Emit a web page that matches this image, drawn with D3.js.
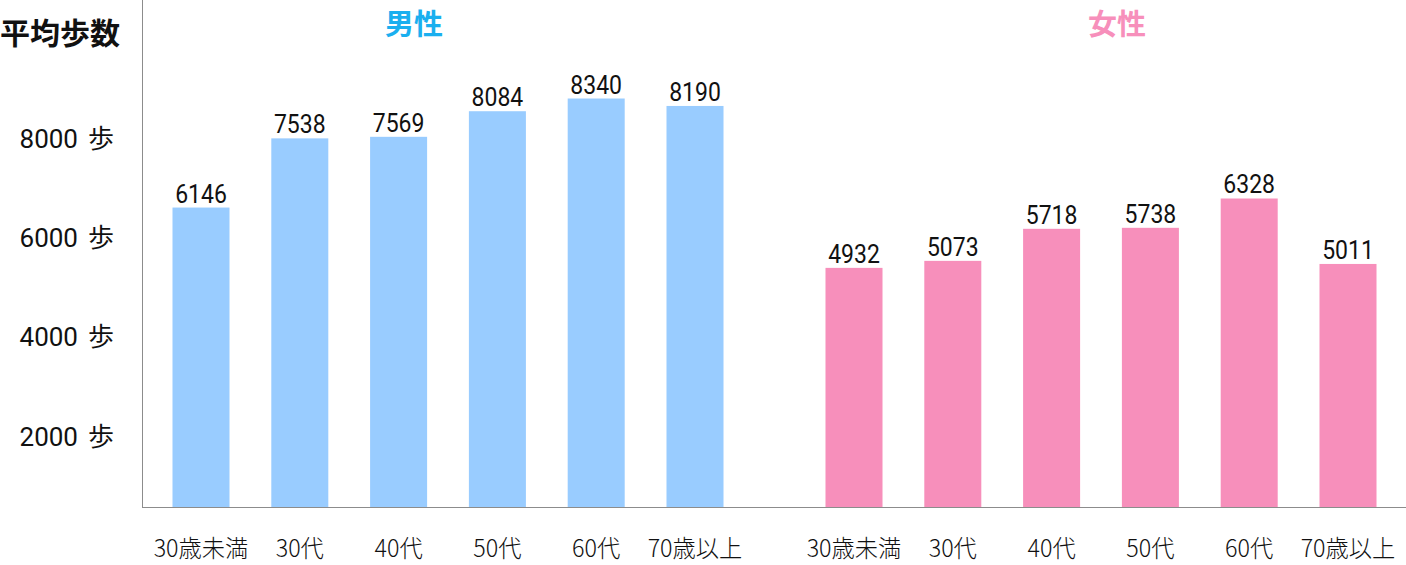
<!DOCTYPE html>
<html><head><meta charset="utf-8">
<script src="https://cdn.jsdelivr.net/npm/d3@7"></script>
<style>html,body{margin:0;padding:0;background:#fff;}svg{display:block;}</style>
</head><body>
<svg id="c" width="1406" height="565"></svg>
<script>
const categories = ["30歳未満","30代","40代","50代","60代","70歳以上"];
const maleValues = [6146, 7538, 7569, 8084, 8340, 8190];
const femaleValues = [4932, 5073, 5718, 5738, 6328, 5011];
const yTicks = [2000, 4000, 6000, 8000];
const groupTitles = ["男性", "女性"];

const svg = d3.select("#c");
const baseY = 507;
const y = d3.scaleLinear().domain([0, 10000]).range([513, 16]);
const xMale = d3.scaleBand().domain(categories).range([151.6, 744.4]).paddingInner(0.423).paddingOuter(0.2115);
const xFemale = d3.scaleBand().domain(categories).range([804.6, 1397.4]).paddingInner(0.423).paddingOuter(0.2115);

const groups = [
  {title: groupTitles[0], values: maleValues, x: xMale, fill: "#99CCFF", titleColor: "#1AAFEF", titleShift: -34},
  {title: groupTitles[1], values: femaleValues, x: xFemale, fill: "#F78FBB", titleColor: "#F78FBB", titleShift: 16}
];

svg.append("line").attr("x1",142.5).attr("x2",142.5).attr("y1",0).attr("y2",baseY).attr("stroke","#8c8c8c").attr("stroke-width",1);

groups.forEach(g => {
  const bw = g.x.bandwidth();
  svg.append("g").selectAll("rect").data(g.values).join("rect")
    .attr("x", (d,i) => g.x(categories[i]))
    .attr("y", d => y(d))
    .attr("width", bw)
    .attr("height", d => baseY + 1 - y(d))
    .attr("fill", g.fill);
  svg.append("g").selectAll("text").data(g.values).join("text")
    .attr("transform", (d,i) => `translate(${g.x(categories[i]) + bw/2},${y(d) - 5}) scale(0.92,1)`)
    .attr("text-anchor","middle")
    .attr("font-family","Roboto, 'Noto Sans', sans-serif")
    .attr("font-size", 25)
    .attr("fill","#111")
    .text(d => d);
  svg.append("g").selectAll("text").data(categories).join("text")
    .attr("transform", d => `translate(${g.x(d) + bw/2},557) scale(0.97,1)`)
    .attr("text-anchor","middle")
    .attr("font-family","'Noto Sans CJK JP', sans-serif")
    .attr("font-weight", 300)
    .attr("font-size", 24)
    .attr("fill","#111")
    .text(d => d);
  const r = g.x.range();
  svg.append("text")
    .attr("x", (r[0] + r[1]) / 2 + g.titleShift)
    .attr("y", 35)
    .attr("text-anchor","middle")
    .attr("font-family","'Noto Sans CJK JP', sans-serif")
    .attr("font-weight","bold")
    .attr("font-size", 29)
    .attr("fill", g.titleColor)
    .text(g.title);
});

svg.append("line").attr("x1",142).attr("x2",1406).attr("y1",baseY+0.5).attr("y2",baseY+0.5).attr("stroke","#8c8c8c").attr("stroke-width",1.2);

const tl = svg.append("g").selectAll("text").data(yTicks).join("text")
  .attr("x", 114)
  .attr("y", d => y(d) + 23)
  .attr("dy","0.35em")
  .attr("text-anchor","end")
  .attr("font-family","Roboto, 'Noto Sans CJK JP', sans-serif")
  .attr("font-size", 26)
  .attr("fill","#111");
tl.append("tspan").text(d => d);
tl.append("tspan").attr("dx", 10).text("歩");

svg.append("text")
  .attr("x", 0).attr("y", 44)
  .attr("font-family","'Noto Sans CJK JP', sans-serif")
  .attr("font-weight","bold")
  .attr("font-size", 30)
  .attr("fill","#111")
  .text("平均歩数");
</script>
</body></html>
